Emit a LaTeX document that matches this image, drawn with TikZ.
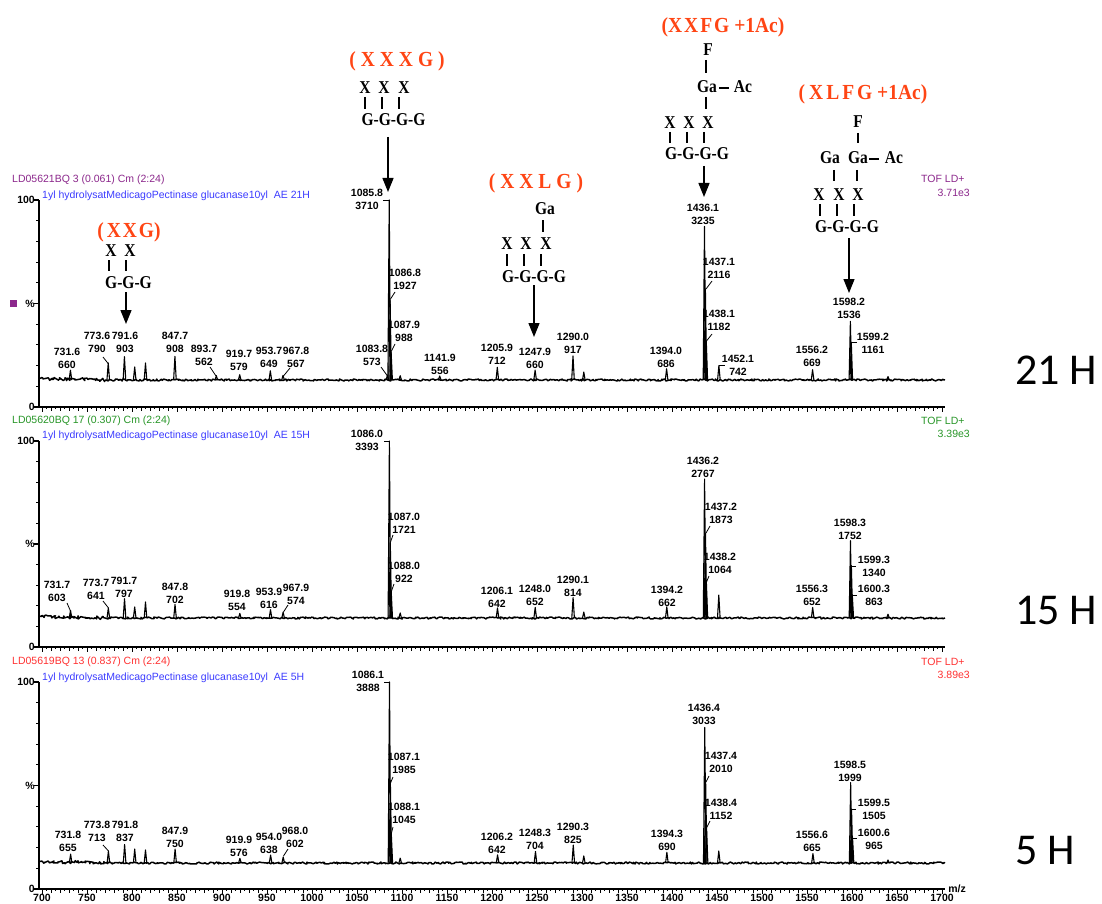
\documentclass[tikz,border=0pt]{standalone}
\usepackage{fontspec}
\usepackage{graphicx}
\setmainfont{Liberation Sans}
\newfontfamily\tnr{Liberation Serif}
\newfontfamily\calib{Carlito}
\usetikzlibrary{arrows.meta,decorations.pathmorphing}
\definecolor{hdpurple}{RGB}{140,40,140}
\definecolor{hdgreen}{RGB}{40,150,40}
\definecolor{hdred}{RGB}{255,50,50}
\definecolor{hdblue}{RGB}{60,60,255}
\definecolor{titlered}{RGB}{255,69,20}
\newcount\nc
\newcommand\nn{\global\advance\nc by 1\relax}
\newcommand\mz[1]{(42+0.9*(#1-700))}
\newcommand\pk[2]{\draw[spec] ({\mz{#1}-1.3},\bs) -- ({\mz{#1}},{\yz-\hh*(#2/\mx)}) -- ({\mz{#1}+1.3},\bs);}
\newcommand\lb[4]{\nn\node[lab] (n\the\nc) at (#1,{#2+6.5}) {#3\\#4};}
\newcommand\ld[4]{\draw[lead] (#1,#2) -- (#3,#4);}
\newcommand\st[3]{\nn\node[struc] (n\the\nc) at (#1,#2) {\scalebox{0.97}[1.13]{#3}};}
\newcommand\ttl[3]{\nn\node[title] (n\the\nc) at (#1,#2) {\scalebox{1}[1.1]{#3}};}
\newcommand\vb[3]{\draw[bond] (#1,#2) -- (#1,#3);}
\newcommand\axes{%
  \draw[axis] (39,{\yz-\hh}) -- (39,\yz) -- (945,\yz);
  \foreach \i in {0,...,10}{\pgfmathsetmacro\tl{mod(\i,5)==0?5:3}\draw[axis] (39,{\yz-\hh*\i/10}) -- ++(-\tl,0);}
  \foreach \m in {700,705,...,1700}{\pgfmathsetmacro\tl{mod(\m,50)==0?5:(mod(\m,10)==0?3.5:2)}\draw[tick] ({\mz{\m}},\yz) -- ++(0,\tl);}
  \nn\node[ylab,anchor=east] (n\the\nc) at (35,{\yz-\hh}) {100};
  \nn\node[ylab,anchor=east] (n\the\nc) at (35,{\yz-\hh/2}) {\%};
  \nn\node[ylab,anchor=east] (n\the\nc) at (35,\yz) {0};
  \draw[base,decorate,decoration={random steps,segment length=1.3pt,amplitude=1.7pt}] (40,{\bs-1.5}) -- (105,\bs);
  \draw[base,decorate,decoration={random steps,segment length=1.3pt,amplitude=1pt}] (105,\bs) -- (945,\bs);
}
\begin{document}
\begin{tikzpicture}[x=1pt,y=-1pt,
  lab/.style={font=\fontsize{10.5}{13}\selectfont\bfseries, align=center, inner sep=0pt},
  hd/.style={font=\fontsize{10.5}{12}\selectfont, inner sep=0pt},
  ylab/.style={font=\fontsize{10.5}{12}\selectfont\bfseries, inner sep=0pt},
  struc/.style={font=\tnr\bfseries\fontsize{16}{16}\selectfont, inner sep=0pt},
  title/.style={font=\tnr\bfseries\fontsize{19.5}{19.5}\selectfont, text=titlered, inner sep=0pt},
  hlab/.style={font=\calib\fontsize{44}{44}\selectfont, inner sep=0pt, anchor=west},
  spec/.style={line width=1.1pt, line join=round},
  base/.style={line width=1.5pt, line join=round},
  axis/.style={line width=1.1pt},
  tick/.style={line width=0.6pt},
  lead/.style={line width=0.8pt},
  bond/.style={line width=1.2pt},
  arr/.style={line width=1.3pt, -{Triangle[width=11pt,length=14pt]}}]
\pgfmathsetseed{4242}
\useasboundingbox (0,0) rectangle (1102,904);
\fill[white] (0,0) rectangle (1102,904);

% ---------------- Panel 1 (21 H) ----------------
\def\yz{407}\def\hh{207}\def\mx{3710}\def\bs{380}
\axes
\node[hd,text=hdpurple,anchor=west] (h1a) at (12,180) {LD05621BQ 3 (0.061) Cm (2:24)};
\node[hd,text=hdblue,anchor=west] (h1b) at (42,196) {1yl hydrolysatMedicagoPectinase glucanase10yl\ \ AE 21H};
\node[hd,text=hdpurple,anchor=west] (t1a) at (921,179) {TOF LD+};
\node[hd,text=hdpurple,anchor=east] (t1b) at (970,193) {3.71e3};
\fill[hdpurple] (10,300) rectangle (17,307);
\foreach \m/\c in {731.6/660,773.6/790,791.6/903,803/717,815/789,847.7/908,893.7/562,919.7/579,953.7/649,967.8/567,1083.8/573,1085.8/3710,1086.8/1927,1087.9/988,1098/560,1141.9/556,1205.9/712,1247.9/660,1290.0/917,1302/627,1394.0/686,1436.1/3235,1437.1/2116,1438.1/1182,1452.1/742,1556.2/669,1598.2/1536,1599.2/1161,1640/545}{\pk{\m}{\c}}
\lb{67}{352}{731.6}{660}
\lb{97}{336}{773.6}{790} \ld{103}{357}{108.5}{364}
\lb{125}{336}{791.6}{903}
\lb{175}{336}{847.7}{908}
\lb{204}{349}{893.7}{562} \ld{210}{367}{216}{376}
\lb{239}{354}{919.7}{579}
\lb{269}{351}{953.7}{649}
\lb{296}{351}{967.8}{567} \ld{290}{368}{283.5}{376}
\lb{372}{349}{1083.8}{573} \ld{381}{367}{387.5}{376}
\lb{367}{193}{1085.8}{3710} \ld{383}{200}{389}{200}
\lb{405}{273}{1086.8}{1927} \ld{395}{292}{390.5}{299}
\lb{404}{325}{1087.9}{988} \ld{395}{344}{391.5}{351}
\lb{440}{358}{1141.9}{556}
\lb{497}{348}{1205.9}{712}
\lb{535}{352}{1247.9}{660}
\lb{573}{337}{1290.0}{917}
\lb{666}{351}{1394.0}{686}
\lb{703}{208}{1436.1}{3235}
\lb{719}{262}{1437.1}{2116} \ld{712}{281}{706}{289}
\lb{719}{314}{1438.1}{1182} \ld{712}{334}{706.5}{341}
\lb{738}{359}{1452.1}{742} \ld{719}{365.5}{725}{365.5}
\lb{812}{350}{1556.2}{669}
\lb{849}{302}{1598.2}{1536}
\lb{873}{337}{1599.2}{1161} \ld{851.5}{342}{857}{342}
\node[hlab] (hr1) at (1015,370) {21 H};

% ---------------- Panel 2 (15 H) ----------------
\def\yz{647}\def\hh{206}\def\mx{3393}\def\bs{618}
\axes
\node[hd,text=hdgreen,anchor=west] (h2a) at (12,421) {LD05620BQ 17 (0.307) Cm (2:24)};
\node[hd,text=hdblue,anchor=west] (h2b) at (42,436) {1yl hydrolysatMedicagoPectinase glucanase10yl\ \ AE 15H};
\node[hd,text=hdgreen,anchor=west] (t2a) at (921,421) {TOF LD+};
\node[hd,text=hdgreen,anchor=east] (t2b) at (970,434) {3.39e3};
\foreach \m/\c in {731.7/603,773.7/641,791.7/797,803/659,815/741,847.8/702,919.8/554,953.9/616,967.9/574,1086.0/3393,1087.0/1721,1088.0/922,1098/560,1206.1/642,1248.0/652,1290.1/814,1302/576,1394.2/662,1436.2/2767,1437.2/1873,1438.2/1064,1452/856,1556.3/652,1598.3/1752,1599.3/1340,1600.3/863,1640/540}{\pk{\m}{\c}}
\lb{367}{434}{1086.0}{3393} \ld{384}{441}{389.5}{441}
\lb{57}{585}{731.7}{603} \ld{67}{603}{70.5}{611}
\lb{96}{583}{773.7}{641} \ld{103}{601}{108.5}{608}
\lb{124}{581}{791.7}{797}
\lb{175}{587}{847.8}{702}
\lb{237}{594}{919.8}{554}
\lb{269}{592}{953.9}{616}
\lb{296}{588}{967.9}{574} \ld{288}{605}{283.5}{612}
\lb{404}{517}{1087.0}{1721} \ld{393}{535}{390.5}{542}
\lb{404}{566}{1088.0}{922} \ld{394}{584}{391.5}{591}
\lb{497}{591}{1206.1}{642}
\lb{535}{589}{1248.0}{652}
\lb{573}{580}{1290.1}{814}
\lb{667}{590}{1394.2}{662}
\lb{703}{461}{1436.2}{2767}
\lb{721}{507}{1437.2}{1873} \ld{710}{526}{706}{533}
\lb{720}{557}{1438.2}{1064} \ld{709}{576}{706.5}{582}
\lb{812}{589}{1556.3}{652}
\lb{850}{523}{1598.3}{1752}
\lb{874}{560}{1599.3}{1340} \ld{851.5}{566}{856}{566}
\lb{874}{589}{1600.3}{863} \ld{852.5}{595}{857}{595}
\node[hlab] (hr2) at (1015,610) {15 H};

% ---------------- Panel 3 (5 H) ----------------
\def\yz{889}\def\hh{207}\def\mx{3888}\def\bs{863}
\axes
\node[hd,text=hdred,anchor=west] (h3a) at (12,662) {LD05619BQ 13 (0.837) Cm (2:24)};
\node[hd,text=hdblue,anchor=west] (h3b) at (42,678) {1yl hydrolysatMedicagoPectinase glucanase10yl\ \ AE 5H};
\node[hd,text=hdred,anchor=west] (t3a) at (921,662) {TOF LD+};
\node[hd,text=hdred,anchor=east] (t3b) at (970,675) {3.89e3};
\foreach \m/\c in {731.8/655,773.8/713,791.8/837,803/751,815/733,847.9/750,919.9/576,954.0/638,968.0/602,1086.1/3888,1087.1/1985,1088.1/1045,1098/580,1206.2/642,1248.3/704,1290.3/825,1302/620,1394.3/690,1436.4/3033,1437.4/2010,1438.4/1152,1452/714,1556.6/665,1598.5/1999,1599.5/1505,1600.6/965,1640/545}{\pk{\m}{\c}}
\lb{368}{675}{1086.1}{3888} \ld{384}{682}{389.5}{682}
\lb{68}{835}{731.8}{655}
\lb{97}{825}{773.8}{713} \ld{103}{845}{108.5}{851}
\lb{125}{825}{791.8}{837}
\lb{175}{831}{847.9}{750}
\lb{239}{840}{919.9}{576}
\lb{269}{837}{954.0}{638}
\lb{295}{831}{968.0}{602} \ld{288}{849}{283.5}{856}
\lb{404}{757}{1087.1}{1985} \ld{393}{777}{390.5}{783}
\lb{404}{807}{1088.1}{1045} \ld{393}{827}{391.5}{833}
\lb{497}{837}{1206.2}{642}
\lb{535}{833}{1248.3}{704}
\lb{573}{827}{1290.3}{825}
\lb{667}{834}{1394.3}{690}
\lb{704}{708}{1436.4}{3033}
\lb{721}{756}{1437.4}{2010} \ld{709}{776}{706}{782}
\lb{721}{803}{1438.4}{1152} \ld{710}{821}{706.5}{828}
\lb{812}{835}{1556.6}{665}
\lb{850}{765}{1598.5}{1999}
\lb{874}{803}{1599.5}{1505} \ld{851.5}{809}{856}{809}
\lb{874}{833}{1600.6}{965} \ld{852.5}{838}{857}{838}
\node[hlab] (hr3) at (1015,851) {5 H};
\foreach \m in {700,750,...,1700}{\node[ylab] (xl\m) at ({\mz{\m}},898) {\m};}
\node[ylab] (mzl) at (957,889) {m/z};

% ---------------- Structures ----------------
% XXG
\ttl{129}{232}{(\hspace{3pt}X\hspace{2pt}X\hspace{2pt}G)}
\st{111}{251}{X} \st{130}{251}{X}
\vb{109}{260}{271} \vb{126}{260}{271}
\st{128.5}{283}{G-G-G}
\coordinate (a1s) at (126,292); \coordinate (a1e) at (126,324);
\draw[arr] (a1s) -- (a1e);
% XXXG
\ttl{397}{61}{(\hspace{5pt}X\hspace{5pt}X\hspace{5pt}X\hspace{5pt}G\hspace{5pt})}
\st{365}{88}{X} \st{384}{88}{X} \st{404}{88}{X}
\vb{365}{97}{109} \vb{382}{97}{109} \vb{399}{97}{109}
\st{393.5}{120}{G-G-G-G}
\coordinate (a2s) at (388,137); \coordinate (a2e) at (388,192);
\draw[arr] (a2s) -- (a2e);
% XXLG
\ttl{536}{183}{(\hspace{5pt}X\hspace{5pt}X\hspace{5pt}L\hspace{5pt}G\hspace{5pt})}
\st{545}{209}{Ga}
\vb{543}{220}{232}
\st{507}{244}{X} \st{526}{244}{X} \st{546}{244}{X}
\vb{507}{254}{266} \vb{524}{254}{266} \vb{541}{254}{266}
\st{534}{277}{G-G-G-G}
\coordinate (a3s) at (534,285); \coordinate (a3e) at (534,337);
\draw[arr] (a3s) -- (a3e);
% XXFG +1Ac
\ttl{723}{27}{(X\hspace{2pt}X\hspace{2pt}F\hspace{2pt}G +1Ac)}
\st{708}{50}{F}
\vb{706}{60}{73}
\st{707}{87}{Ga}
\draw[bond] (719,88) -- (729,88);
\st{743}{87}{Ac}
\vb{706}{97}{109}
\st{670}{123}{X} \st{689}{123}{X} \st{708}{123}{X}
\vb{670}{132}{143} \vb{687}{132}{143} \vb{704}{132}{143}
\st{697}{154}{G-G-G-G}
\coordinate (a4s) at (704,166); \coordinate (a4e) at (704,197);
\draw[arr] (a4s) -- (a4e);
% XLFG +1Ac
\ttl{863}{94}{(\hspace{4pt}X\hspace{3pt}L\hspace{3pt}F\hspace{3pt}G +1Ac)}
\st{858}{122}{F}
\vb{858}{133}{143}
\st{830}{158}{Ga} \st{858}{158}{Ga}
\draw[bond] (869,159) -- (879,159);
\st{894}{158}{Ac}
\vb{834}{170}{181} \vb{857}{170}{181}
\st{819}{195}{X} \st{839}{195}{X} \st{858}{195}{X}
\vb{820}{204}{216} \vb{837}{204}{216} \vb{854}{204}{216}
\st{847}{227}{G-G-G-G}
\coordinate (a5s) at (849,238); \coordinate (a5e) at (849,293);
\draw[arr] (a5s) -- (a5e);
\end{tikzpicture}
\end{document}
